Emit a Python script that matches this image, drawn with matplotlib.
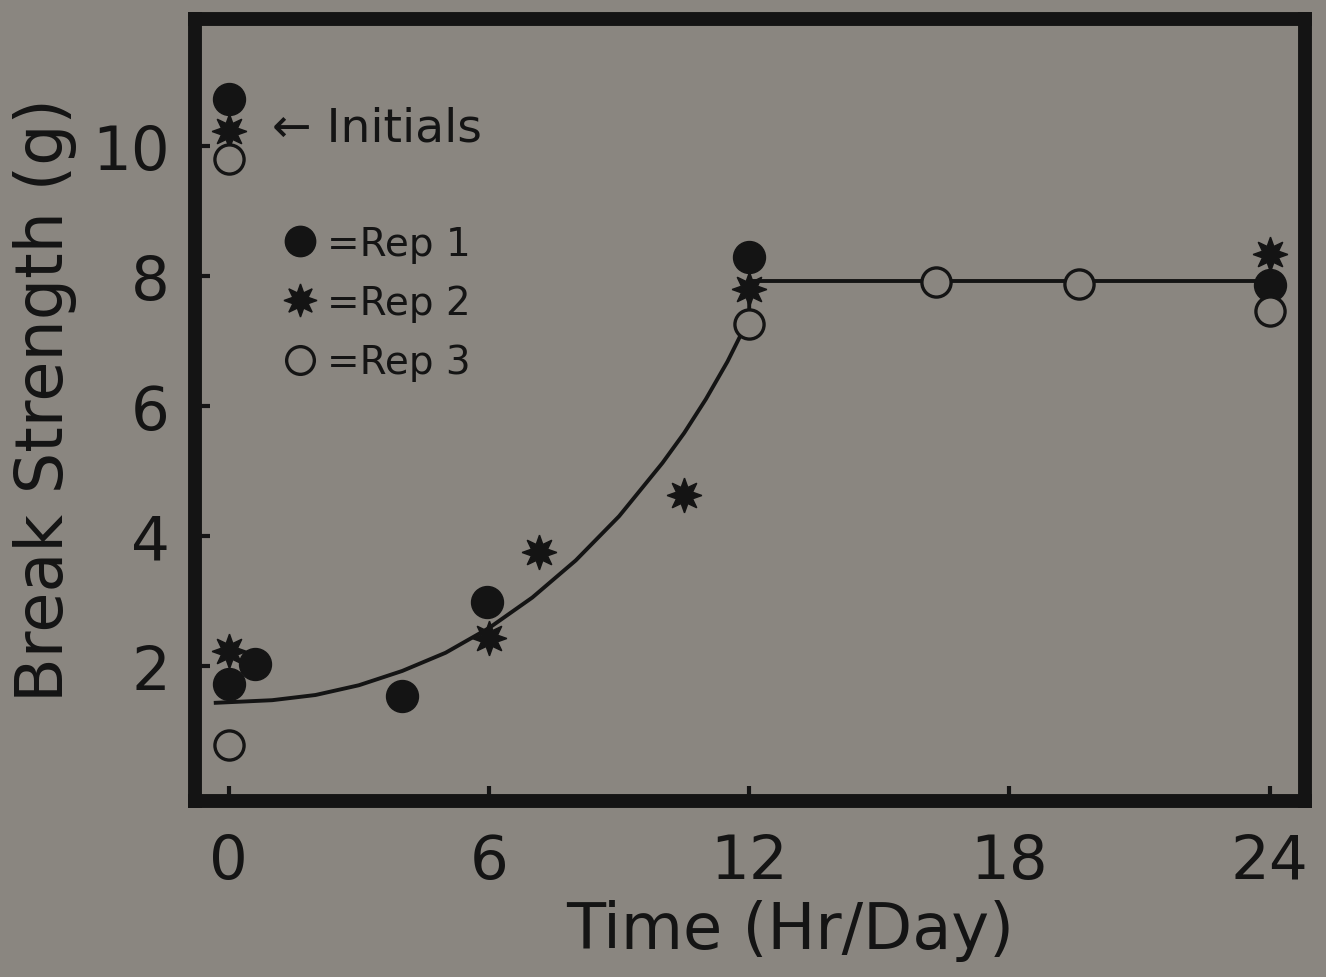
import matplotlib.pyplot as plt

# data
rep1_x = [0, 0, 0.6, 4.0, 5.95, 12.0, 24.0]
rep1_y = [10.72, 1.72, 2.03, 1.54, 2.98, 8.29, 7.85]

rep2_x = [0, 0, 6.0, 7.15, 10.5, 12.0, 24.0]
rep2_y = [10.22, 2.23, 2.42, 3.75, 4.63, 7.80, 8.34]

rep3_x = [0, 0, 12.0, 16.3, 19.6, 24.0]
rep3_y = [9.80, 0.78, 7.26, 7.90, 7.88, 7.45]

# hand-drawn fit curve (read point by point) and the plateau
curve_x = [-0.3, 1, 2, 3, 4, 5, 6, 7, 8, 9, 10, 10.5, 11, 11.5, 12.0, 12.0]
curve_y = [1.43, 1.47, 1.55, 1.70, 1.92, 2.20, 2.58, 3.05, 3.62, 4.30, 5.12,
           5.58, 6.10, 6.68, 7.35, 7.92]
plateau_x = [12.0, 24.0]
plateau_y = [7.92, 7.92]

xticks = [0, 6, 12, 18, 24]
yticks = [2, 4, 6, 8, 10]

bg = '#8a8680'
ink = '#141414'

plt.rcParams['font.family'] = ['DejaVu Sans']

fig = plt.figure(figsize=(13.26, 9.78), dpi=100)
fig.patch.set_facecolor(bg)
ax = fig.add_axes([0.147, 0.180, 0.837, 0.7996])
ax.set_facecolor(bg)

ax.plot(curve_x, curve_y, color=ink, lw=2.8, zorder=2, solid_joinstyle='round')
ax.plot(plateau_x, plateau_y, color=ink, lw=2.8, zorder=2)

h1, = ax.plot(rep1_x, rep1_y, ls='none', marker='o', ms=23, mfc=ink, mec=ink, zorder=3)
h2, = ax.plot(rep2_x, rep2_y, ls='none', marker=(8, 1, 0), ms=25, mfc=ink, mec=ink, zorder=4)
h3, = ax.plot(rep3_x, rep3_y, ls='none', marker='o', ms=21, mfc=bg, mec=ink, mew=2.4, zorder=5)

ax.set_xlim(-0.78, 24.81)
ax.set_ylim(-0.08, 11.95)
ax.set_xticks(xticks)
ax.set_yticks(yticks)
ax.tick_params(direction='in', length=11, width=3, color=ink, labelsize=44,
               labelcolor=ink)
ax.tick_params(axis='x', pad=22)
ax.tick_params(axis='y', pad=18)

for s in ax.spines.values():
    s.set_linewidth(10)
    s.set_color(ink)
    s.set_capstyle('projecting')

ax.set_xlabel('Time (Hr/Day)', fontsize=46, color=ink)
ax.xaxis.set_label_coords(0.536, -0.125)
ax.set_ylabel('Break Strength (g)', fontsize=47, color=ink)
ax.yaxis.set_label_coords(-0.106, 0.514)

ax.text(0.99, 10.28, '\u2190 Initials', fontsize=34, color=ink, ha='left', va='center')

leg = ax.legend([h1, h2, h3], ['=Rep 1', '=Rep 2', '=Rep 3'],
                loc='upper left', bbox_to_anchor=(0.065, 0.762), frameon=False,
                fontsize=28, handlelength=0.7, handletextpad=0.35,
                labelspacing=0.55, borderpad=0, markerscale=0.95)
for t in leg.get_texts():
    t.set_color(ink)

fig.savefig('out.png', dpi=100, facecolor=bg)
